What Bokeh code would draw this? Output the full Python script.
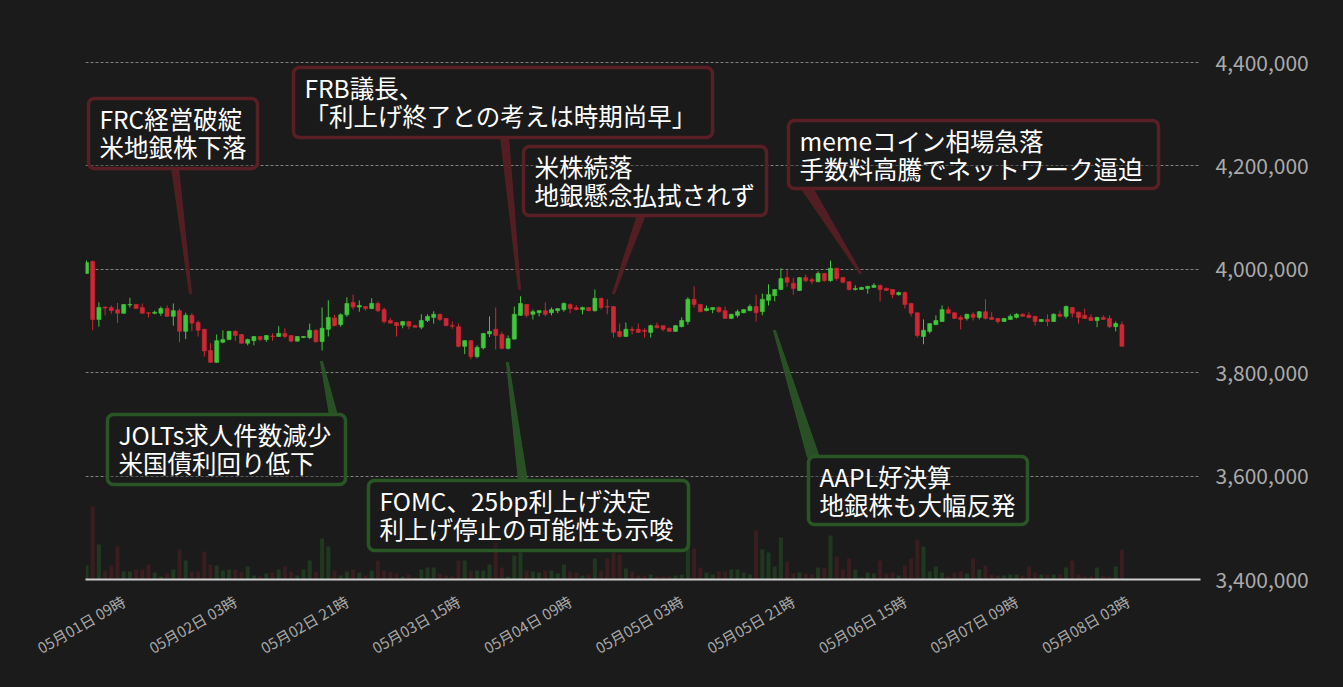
import math
import pandas as pd
from bokeh.plotting import figure
from bokeh.models import Range1d, FixedTicker, NumeralTickFormatter, DatetimeTickFormatter, ColumnDataSource
from bokeh.core.properties import value
from bokeh.embed import file_html
from bokeh.resources import INLINE

# ---------------- data (BTC/JPY, 1h candles, prices in thousand yen) ----------------
start_time = "2023-05-01 03:00"
PRICE_UNIT = 1000

opens = [3992, 4015, 3903, 3927, 3926, 3922, 3915, 3931, 3932, 3926,
         3916, 3915, 3915, 3924, 3909, 3920, 3880, 3911, 3897, 3884,
         3843, 3820, 3859, 3864, 3880, 3874, 3857, 3862, 3870, 3864,
         3871, 3870, 3876, 3872, 3861, 3868, 3868, 3882, 3860, 3884,
         3906, 3893, 3912, 3936, 3927, 3928, 3924, 3934, 3922, 3901,
         3897, 3892, 3899, 3891, 3888, 3901, 3907, 3913, 3905, 3891,
         3889, 3851, 3862, 3831, 3848, 3875, 3884, 3874, 3847, 3865,
         3911, 3932, 3913, 3916, 3920, 3916, 3920, 3922, 3932, 3926,
         3922, 3926, 3920, 3944, 3928, 3928, 3880, 3870, 3884, 3884,
         3882, 3878, 3891, 3891, 3886, 3880, 3889, 3899, 3942, 3932,
         3920, 3922, 3926, 3920, 3905, 3911, 3916, 3920, 3928, 3918,
         3940, 3949, 3961, 3984, 3973, 3959, 3984, 3980, 3976, 3992,
         3978, 4002, 3984, 3976, 3961, 3961, 3963, 3965, 3969, 3963,
         3961, 3951, 3955, 3934, 3916, 3870, 3880, 3893, 3899, 3922,
         3916, 3907, 3905, 3913, 3907, 3918, 3907, 3905, 3899, 3903,
         3907, 3913, 3911, 3909, 3899, 3903, 3899, 3913, 3909, 3926,
         3917, 3911, 3907, 3901, 3907, 3905, 3889, 3893]
highs = [4017, 4017, 3936, 3928, 3930, 3935, 3933, 3945, 3933, 3934,
         3917, 3920, 3928, 3930, 3934, 3924, 3916, 3915, 3901, 3885,
         3857, 3874, 3882, 3881, 3882, 3875, 3866, 3871, 3871, 3873,
         3876, 3890, 3886, 3873, 3871, 3871, 3895, 3884, 3926, 3940,
         3912, 3915, 3946, 3951, 3940, 3929, 3944, 3938, 3926, 3906,
         3898, 3900, 3900, 3893, 3913, 3913, 3919, 3914, 3906, 3899,
         3895, 3863, 3863, 3853, 3877, 3909, 3926, 3879, 3872, 3928,
         3948, 3933, 3922, 3921, 3936, 3926, 3925, 3936, 3934, 3931,
         3928, 3927, 3961, 3945, 3942, 3929, 3895, 3897, 3889, 3895,
         3886, 3893, 3897, 3892, 3887, 3892, 3907, 3946, 3967, 3933,
         3930, 3927, 3928, 3928, 3914, 3922, 3923, 3932, 3951, 3953,
         3971, 3962, 4002, 3998, 3984, 3985, 3990, 3984, 3996, 3993,
         4017, 4003, 3985, 3977, 3969, 3966, 3968, 3973, 3970, 3965,
         3962, 3957, 3957, 3935, 3917, 3903, 3896, 3911, 3930, 3928,
         3917, 3911, 3914, 3917, 3919, 3942, 3917, 3906, 3906, 3913,
         3915, 3915, 3917, 3910, 3904, 3913, 3915, 3920, 3930, 3927,
         3918, 3924, 3913, 3908, 3911, 3911, 3899, 3899]
lows = [3991, 3882, 3889, 3911, 3914, 3896, 3914, 3926, 3924, 3914,
        3907, 3913, 3910, 3908, 3891, 3859, 3865, 3880, 3870, 3831,
        3819, 3819, 3857, 3863, 3861, 3856, 3853, 3853, 3861, 3860,
        3862, 3869, 3867, 3859, 3860, 3867, 3865, 3858, 3843, 3870,
        3890, 3889, 3908, 3922, 3918, 3920, 3923, 3917, 3895, 3895,
        3870, 3886, 3884, 3887, 3884, 3898, 3895, 3900, 3890, 3885,
        3849, 3836, 3826, 3828, 3845, 3869, 3845, 3845, 3845, 3864,
        3910, 3907, 3903, 3909, 3909, 3911, 3915, 3918, 3915, 3921,
        3913, 3919, 3918, 3922, 3913, 3868, 3868, 3869, 3874, 3877,
        3868, 3868, 3886, 3880, 3879, 3879, 3888, 3893, 3926, 3917,
        3919, 3915, 3916, 3904, 3904, 3907, 3915, 3919, 3899, 3911,
        3930, 3938, 3960, 3966, 3951, 3958, 3975, 3971, 3975, 3976,
        3976, 3978, 3973, 3959, 3959, 3960, 3953, 3964, 3938, 3958,
        3944, 3949, 3924, 3909, 3868, 3855, 3876, 3892, 3898, 3914,
        3904, 3884, 3901, 3901, 3903, 3903, 3902, 3895, 3898, 3902,
        3905, 3908, 3905, 3891, 3898, 3890, 3898, 3907, 3905, 3907,
        3895, 3904, 3900, 3888, 3902, 3886, 3880, 3850]
closes = [4013, 3903, 3926, 3925, 3920, 3915, 3932, 3932, 3924, 3915,
          3915, 3917, 3924, 3909, 3920, 3880, 3911, 3896, 3882, 3842,
          3820, 3862, 3864, 3880, 3872, 3857, 3864, 3870, 3864, 3872,
          3870, 3876, 3870, 3861, 3870, 3870, 3882, 3860, 3886, 3907,
          3891, 3912, 3934, 3927, 3930, 3924, 3934, 3920, 3899, 3896,
          3891, 3899, 3890, 3888, 3901, 3909, 3913, 3903, 3891, 3890,
          3851, 3862, 3831, 3849, 3876, 3880, 3872, 3847, 3866, 3913,
          3934, 3911, 3918, 3920, 3913, 3922, 3924, 3934, 3924, 3922,
          3926, 3920, 3944, 3926, 3927, 3878, 3870, 3884, 3882, 3878,
          3880, 3891, 3887, 3884, 3880, 3891, 3901, 3942, 3932, 3918,
          3924, 3926, 3918, 3905, 3913, 3918, 3922, 3928, 3916, 3942,
          3951, 3961, 3982, 3975, 3963, 3984, 3978, 3977, 3992, 3978,
          4002, 3982, 3975, 3961, 3963, 3965, 3967, 3969, 3961, 3959,
          3951, 3955, 3932, 3915, 3872, 3882, 3895, 3901, 3922, 3915,
          3905, 3903, 3913, 3907, 3918, 3905, 3903, 3899, 3905, 3909,
          3913, 3909, 3907, 3899, 3903, 3899, 3913, 3909, 3928, 3915,
          3907, 3905, 3901, 3907, 3903, 3889, 3895, 3851]
volumes = [14, 73, 35, 9, 14, 33, 8, 8, 10, 10,
           15, 7, 3, 6, 10, 30, 19, 8, 8, 28,
           15, 14, 9, 10, 10, 8, 13, 4, 3, 6,
           7, 10, 13, 8, 4, 10, 19, 8, 41, 33,
           9, 4, 8, 10, 7, 4, 9, 19, 9, 8,
           6, 3, 5, 2, 10, 12, 12, 6, 4, 3,
           19, 19, 9, 9, 9, 15, 37, 12, 3, 24,
           27, 9, 8, 7, 9, 9, 6, 15, 8, 7,
           4, 5, 21, 9, 21, 27, 25, 11, 8, 4,
           4, 5, 3, 3, 3, 4, 5, 36, 31, 12,
           7, 5, 8, 8, 10, 10, 7, 5, 49, 30,
           27, 13, 42, 18, 6, 7, 6, 5, 12, 12,
           44, 23, 10, 21, 10, 2, 7, 6, 19, 6,
           7, 4, 14, 21, 40, 33, 8, 13, 7, 3,
           7, 8, 6, 21, 10, 14, 5, 4, 4, 5,
           5, 4, 13, 7, 5, 5, 5, 5, 12, 19,
           5, 3, 3, 12, 4, 3, 13, 30]

tick_start = "2023-05-01 09:00"
tick_step_hours = 18
tick_count = 10
y_ticks = [3400000, 3600000, 3800000, 4000000, 4200000, 4400000]

event_lines = [
    ["FRC経営破綻", "米地銀株下落"],
    ["FRB議長、", "「利上げ終了との考えは時期尚早」"],
    ["米株続落", "地銀懸念払拭されず"],
    ["memeコイン相場急落", "手数料高騰でネットワーク逼迫"],
    ["JOLTs求人件数減少", "米国債利回り低下"],
    ["FOMC、25bp利上げ決定", "利上げ停止の可能性も示唆"],
    ["AAPL好決算", "地銀株も大幅反発"],
]
event_kind = ["down", "down", "down", "down", "up", "up", "up"]

# ---------------- layout (page pixels) ----------------
# box: left, top, right, bottom ; pointer: base-left x, base-right x, base y, tip x, tip y
box_px = [(88, 98, 257, 168), (293, 67, 712, 137), (523, 146, 766, 215),
          (788, 120, 1158, 188), (107, 414, 345, 484), (368, 480, 688, 550),
          (808, 456, 1027, 524)]
ptr_px = [(171, 178, 167, 190, 293), (500, 508, 136, 519, 289), (637, 645, 214, 613, 293),
          (800, 812, 187, 860, 273), (329, 337, 415, 321, 361), (518, 527, 481, 507, 362),
          (807, 819, 457, 774, 330)]

BG = "#1b1b1b"
RED = "#cf2733"
GREEN = "#3fc83a"
RED_DARK = "#5a1f25"
GREEN_DARK = "#2a5626"
FONT = "Noto Sans CJK JP"

PAGE_W, PAGE_H = 1343, 687
HOUR = 3600 * 1000.0
PX_PER_HOUR = 6.2
FRAME_L, FRAME_T, FRAME_W, FRAME_H = 85, 31, 1115, 548
Y0, Y1 = 3400000, 4460000

times = pd.date_range(start_time, periods=len(opens), freq="h")
t_ms = [float(v) for v in (times.asi8 // 10**6)]
x_start = t_ms[0] - HOUR / PX_PER_HOUR
x_end = x_start + FRAME_W / PX_PER_HOUR * HOUR


def px_x(px):
    return x_start + (px - FRAME_L) * HOUR / PX_PER_HOUR


def px_y(py):
    return Y0 + (FRAME_T + FRAME_H - py) * (Y1 - Y0) / FRAME_H


o = [v * PRICE_UNIT for v in opens]
h = [v * PRICE_UNIT for v in highs]
l = [v * PRICE_UNIT for v in lows]
c = [v * PRICE_UNIT for v in closes]
up = [cc >= oo for oo, cc in zip(o, c)]
colors = [GREEN if u else RED for u in up]

src = ColumnDataSource(dict(
    t=t_ms, o=o, h=h, l=l, c=c,
    top=[max(a, b) for a, b in zip(o, c)],
    bot=[min(a, b) for a, b in zip(o, c)],
    col=colors, vol=volumes,
))

p = figure(
    frame_width=FRAME_W, frame_height=FRAME_H,
    x_axis_type="datetime", y_axis_location="right",
    x_range=Range1d(x_start, x_end), y_range=Range1d(Y0, Y1),
    output_backend="svg", toolbar_location=None,
    background_fill_color=BG, border_fill_color=BG,
    min_border_left=FRAME_L, min_border_top=FRAME_T,
    min_border_right=PAGE_W - FRAME_L - FRAME_W - 2,
    min_border_bottom=PAGE_H - FRAME_T - FRAME_H - 2,
)
p.outline_line_color = None
p.outline_line_alpha = 0
p.extra_y_ranges = {"vol": Range1d(0, FRAME_H)}

# volume
p.vbar(x="t", top="vol", bottom=0, width=0.65 * HOUR, source=src,
       fill_color="col", line_color=None, fill_alpha=0.17, y_range_name="vol")

# candles
p.segment(x0="t", y0="h", x1="t", y1="l", source=src, line_color="col", line_width=1)
p.vbar(x="t", top="top", bottom="bot", width=0.65 * HOUR, source=src,
       fill_color="col", line_color="col", line_width=0.6)

# axes
p.xaxis.ticker = FixedTicker(ticks=[
    float(pd.Timestamp(tick_start).value // 10**6) + k * tick_step_hours * HOUR
    for k in range(tick_count)])
fmt = "%m月%d日 %H時"
p.xaxis.formatter = DatetimeTickFormatter(hours=fmt, hourmin=fmt, days=fmt, months=fmt,
                                          minutes=fmt, years=fmt)
p.xaxis.major_label_orientation = math.radians(30)
p.xaxis.major_label_text_color = "#a9a9a9"
p.xaxis.major_label_text_font = FONT
p.xaxis.major_label_text_font_size = "15px"
p.xaxis.major_label_standoff = 14
p.xaxis.axis_line_color = "#d0d0d0"
p.xaxis.axis_line_width = 2
p.xaxis.major_tick_line_color = None
p.xaxis.minor_tick_line_color = None

p.yaxis.ticker = FixedTicker(ticks=y_ticks)
p.yaxis.formatter = NumeralTickFormatter(format="0,0")
p.yaxis.major_label_text_color = "#aaaaaa"
p.yaxis.major_label_text_font = FONT
p.yaxis.major_label_text_font_size = "21px"
p.yaxis.major_label_standoff = 9
p.yaxis.axis_line_color = None
p.yaxis.major_tick_line_color = None
p.yaxis.minor_tick_line_color = None

p.xgrid.grid_line_color = None
p.ygrid.grid_line_color = "#9a9a9a"
p.ygrid.grid_line_alpha = 0.8
p.ygrid.grid_line_dash = "3 2"
p.ygrid.grid_line_width = 1


# annotations
def rrect(lft, top, rgt, btm, rad=6, n=6):
    pts = []
    for cx, cy, a0, a1 in [(rgt - rad, top + rad, -90, 0), (rgt - rad, btm - rad, 0, 90),
                           (lft + rad, btm - rad, 90, 180), (lft + rad, top + rad, 180, 270)]:
        for k in range(n + 1):
            a = math.radians(a0 + (a1 - a0) * k / n)
            pts.append((cx + rad * math.cos(a), cy + rad * math.sin(a)))
    return [px_x(x) for x, _ in pts], [px_y(y) for _, y in pts]


ptr_xs, ptr_ys, ptr_cols = [], [], []
box_xs, box_ys, box_cols = [], [], []
tx, ty, tt = [], [], []
for i, lines in enumerate(event_lines):
    dark = RED_DARK if event_kind[i] == "down" else GREEN_DARK
    bl, br, by, tipx, tipy = ptr_px[i]
    ptr_xs.append([px_x(bl), px_x(br), px_x(tipx + 1), px_x(tipx - 1)])
    ptr_ys.append([px_y(by), px_y(by), px_y(tipy), px_y(tipy)])
    ptr_cols.append(dark)
    L, T, R, B = box_px[i]
    xs, ys = rrect(L, T, R, B)
    box_xs.append(xs)
    box_ys.append(ys)
    box_cols.append(dark)
    for j, line in enumerate(lines):
        tx.append(px_x(L + 11))
        ty.append(px_y(T + 20 + 28 * j))
        tt.append(line)

p.patches(xs=ptr_xs, ys=ptr_ys, fill_color=ptr_cols, line_color=ptr_cols,
          fill_alpha=0.9, line_alpha=0.9, line_width=1)
p.patches(xs=box_xs, ys=box_ys, fill_color=BG, fill_alpha=0.35,
          line_color=box_cols, line_width=3.5, line_join="round")
p.text(x=tx, y=ty, text=tt, text_font=value(FONT), text_font_size="24.5px",
       text_color="#ffffff", text_baseline="middle", text_align="left")

html = file_html(p, INLINE)
html = html.replace("<head>", "<head><style>html,body{margin:0;padding:0;background:#1b1b1b;overflow:hidden;}</style>", 1)
open("out.html", "w").write(html)
